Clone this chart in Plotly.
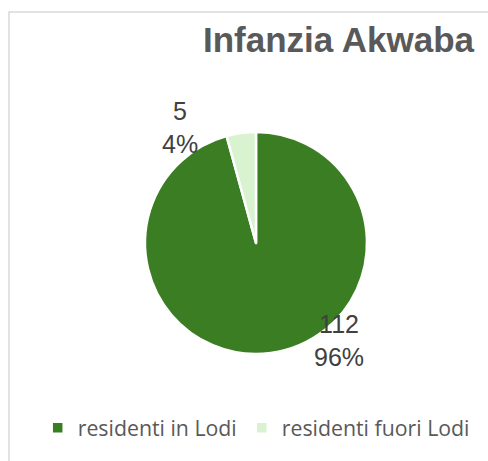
import plotly.graph_objects as go

categories = ["residenti in Lodi", "residenti fuori Lodi"]
values = [112, 5]
colors = ["#3b7d23", "#d9f2d0"]
title_text = "Infanzia Akwaba"

W, H = 488, 461
total = sum(values)
pcts = [round(v / total * 100) for v in values]

FONT = "Liberation Sans, Arial, sans-serif"

fig = go.Figure()
fig.add_trace(go.Pie(
    labels=categories,
    values=values,
    sort=False,
    direction="clockwise",
    rotation=0,
    marker=dict(colors=colors, line=dict(color="white", width=2.5)),
    textinfo="none",
    hoverinfo="label+value+percent",
    domain=dict(x=[(256 - 111) / W, (256 + 111) / W],
                y=[(H - 243 - 111) / H, (H - 243 + 111) / H]),
))

def px(x):
    return x / W

def py(y):
    return (H - y) / H

# Data labels
label_pos = [(339, 340), (180, 128)]
for (x, y), v, p in zip(label_pos, values, pcts):
    fig.add_annotation(
        x=px(x), y=py(y), xref="paper", yref="paper",
        text=f"{v}<br>{p}%", showarrow=False,
        xanchor="center", yanchor="middle",
        font=dict(family=FONT, size=25, color="#404040"),
    )

# Title
fig.add_annotation(
    x=px(339), y=py(39), xref="paper", yref="paper",
    text=f"<b>{title_text}</b>", showarrow=False,
    xanchor="center", yanchor="middle",
    font=dict(family=FONT, size=35, color="#595959"),
)

# Chart area border
fig.add_shape(type="rect", xref="paper", yref="paper",
              x0=px(9), x1=1.05, y0=-0.05, y1=py(12),
              line=dict(color="#d9d9d9", width=1.5), fillcolor="rgba(0,0,0,0)")

fig.update_layout(
    width=W, height=H,
    margin=dict(l=0, r=0, t=0, b=0),
    paper_bgcolor="white",
    plot_bgcolor="white",
    showlegend=True,
    legend=dict(
        orientation="h",
        x=0.525, xanchor="center",
        y=py(428), yanchor="middle",
        font=dict(family="Open Sans, sans-serif", size=21.3, color="#595959"),
        itemwidth=30,
        bgcolor="rgba(0,0,0,0)",
    ),
)

fig.write_html("out.html",
               config={"displayModeBar": False},
               post_script="document.body.style.margin='0';document.body.style.overflow='hidden';")
